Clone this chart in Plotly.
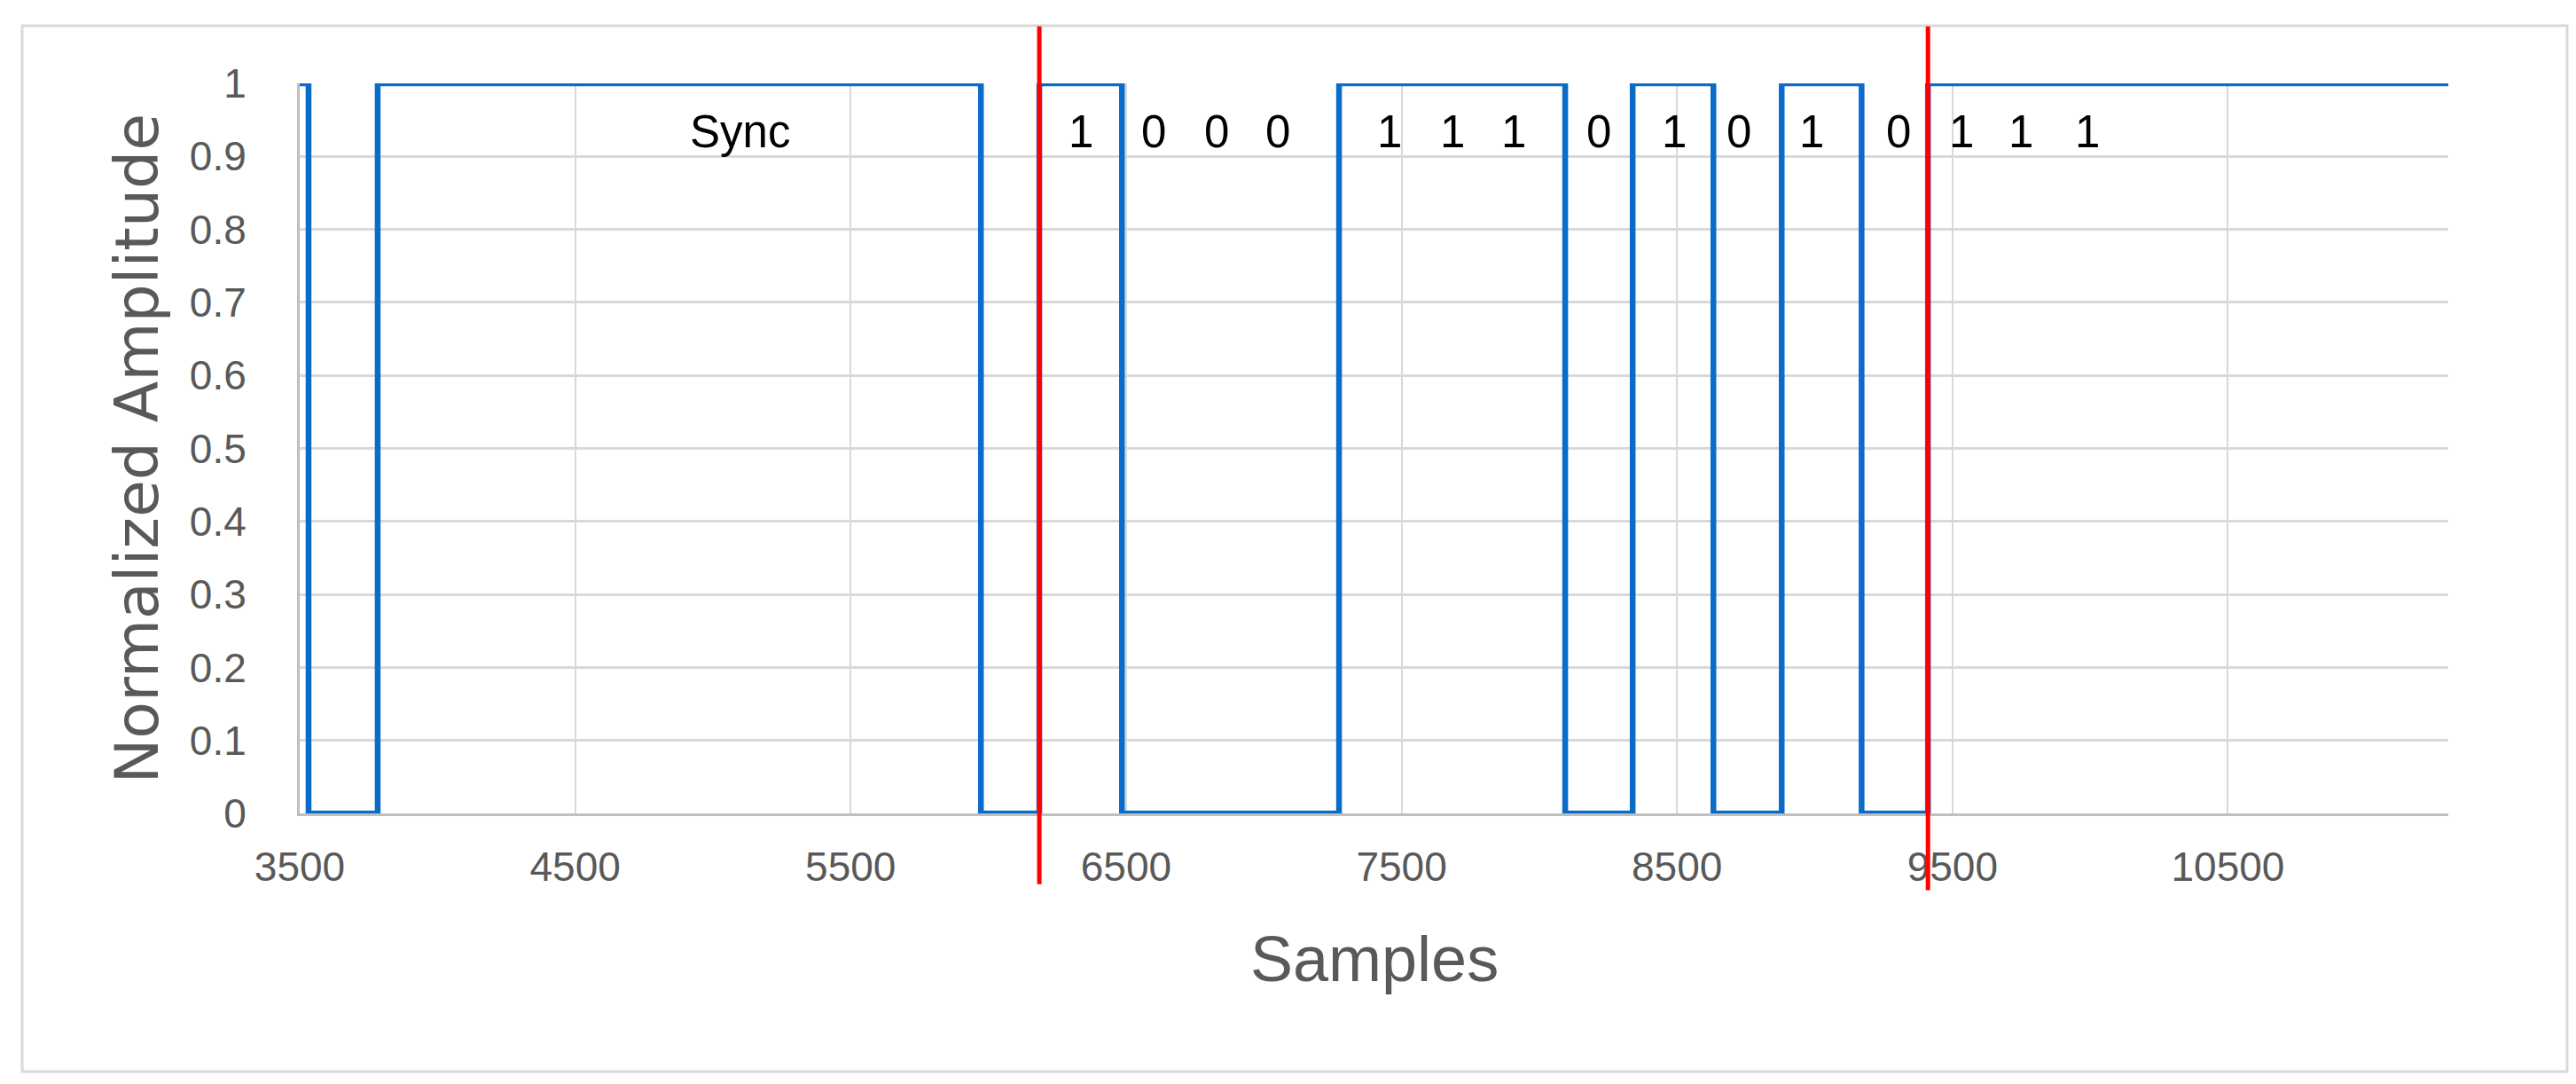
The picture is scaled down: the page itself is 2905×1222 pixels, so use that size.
import plotly.graph_objects as go

# Signal: sample index where each level starts, and the level held from there
edge_samples = [3500, 3532, 3783, 5973, 6185, 6485, 7273, 8094, 8339, 8632, 8880, 9170, 9411, 11300]
levels       = [1,    0,    1,    0,    1,    0,    1,    0,    1,    0,    1,    0,    1,    1]

# Red frame markers (samples)
marker_samples = [6185, 9411]

# Text labels above the waveform
sync_label = "Sync"
sync_sample = 5097
bit_labels  = ["1", "0", "0", "0", "1", "1", "1", "0", "1", "0", "1", "0", "1", "1", "1"]
bit_samples = [6336, 6600, 6829, 7051, 7457, 7685, 7908, 8217, 8490, 8725, 8989, 9305, 9533, 9749, 9991]
label_level = 0.934

x_ticks = [3500, 4500, 5500, 6500, 7500, 8500, 9500, 10500]
x_ticktext = ["3500", "4500", "5500", "6500", "7500", "8500", "9500", "10500"]
y_ticks = [0, 0.1, 0.2, 0.3, 0.4, 0.5, 0.6, 0.7, 0.8, 0.9, 1]
y_ticktext = ["0", "0.1", "0.2", "0.3", "0.4", "0.5", "0.6", "0.7", "0.8", "0.9", "1"]

BLUE = "#0A6BC9"
RED = "#FF0000"
GRID = "#D9D9D9"
AXIS = "#BFBFBF"
TICK = "#595959"

W, H = 2905, 1222
L, R, T, B = 330, 152, 86, 313

fig = go.Figure(
    go.Scatter(
        x=edge_samples, y=levels,
        mode="lines", line=dict(color=BLUE, width=6.5, shape="hv"),
        showlegend=False, hoverinfo="skip",
    )
)

# red vertical markers, from top of the frame down past the axis
for xs, yb in zip(marker_samples, [-0.097, -0.105]):
    fig.add_shape(type="line", xref="x", yref="paper",
                  x0=xs, x1=xs, y0=yb, y1=1.078,
                  line=dict(color=RED, width=5), layer="above")

annotations = [dict(x=sync_sample, y=label_level, xref="x", yref="y",
                    text=sync_label, showarrow=False,
                    font=dict(family="Liberation Sans", size=51, color="black"))]
for lab, xs in zip(bit_labels, bit_samples):
    annotations.append(dict(x=xs, y=label_level, xref="x", yref="y",
                            text=lab, showarrow=False,
                            font=dict(family="Liberation Sans", size=51, color="black")))

# axis titles
annotations.append(dict(x=0.5, y=-0.199, xref="paper", yref="paper",
                        text="Samples", showarrow=False,
                        xanchor="center", yanchor="middle",
                        font=dict(family="Liberation Sans", size=72, color=TICK)))
annotations.append(dict(x=-0.0759, y=0.5, xref="paper", yref="paper",
                        text="Normalized Amplitude", showarrow=False, textangle=-90,
                        xanchor="center", yanchor="middle",
                        font=dict(family="DejaVu Sans", size=68, color=TICK)))

# outer chart frame
fig.add_shape(type="rect", xref="paper", yref="paper",
              x0=(17 - L) / (W - L - R), x1=(2887 - L) / (W - L - R),
              y0=-(1200 - (H - B)) / (H - T - B), y1=1 + (T - 21) / (H - T - B),
              line=dict(color=GRID, width=3), layer="below")

fig.update_layout(
    width=W, height=H,
    margin=dict(l=L, r=R, t=T, b=B, autoexpand=False),
    paper_bgcolor="white", plot_bgcolor="white",
    annotations=annotations,
    xaxis=dict(range=[3500, 11300], tickvals=x_ticks, ticktext=x_ticktext,
               showgrid=True, gridcolor=GRID, gridwidth=2,
               showline=True, linecolor=AXIS, linewidth=3,
               zeroline=False, ticks="", ticklabelstandoff=18,
               tickfont=dict(family="Liberation Sans", size=46, color=TICK)),
    yaxis=dict(range=[0, 1], tickvals=y_ticks, ticktext=y_ticktext,
               showgrid=True, gridcolor=GRID, gridwidth=3,
               showline=True, linecolor=AXIS, linewidth=3,
               zeroline=False, ticks="", ticklabelstandoff=48,
               tickfont=dict(family="Liberation Sans", size=46, color=TICK)),
)

fig.write_html("out.html")
